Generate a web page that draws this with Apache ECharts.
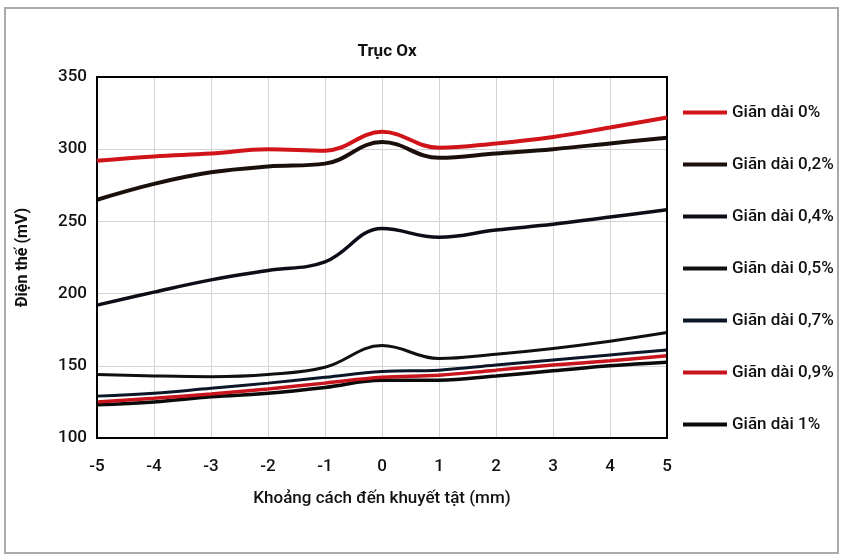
<!DOCTYPE html>
<html><head><meta charset="utf-8">
<script src="https://cdn.jsdelivr.net/npm/echarts@6/dist/echarts.min.js"></script>
<style>html,body{margin:0;padding:0;background:#fff}#c{width:844px;height:558px}</style>
</head><body><div id="c"></div>
<script>
const xs = [-5,-4,-3,-2,-1,0,1,2,3,4,5];
const seriesNames = ['Giãn dài 0%','Giãn dài 0,2%','Giãn dài 0,4%','Giãn dài 0,5%','Giãn dài 0,7%','Giãn dài 0,9%','Giãn dài 1%'];
const s0  = [292,295,297,300,299,312,301,304,308.5,315,322];
const s02 = [265,276,284,288,290,305,294,297,300,304,308];
const s04 = [192,201,209.5,216,222,245,239,244,248,253,258];
const s05 = [144,143,142.5,144,149,164,155,158,162,167,173];
const s07 = [129,131,134.5,138,142,146,147,150.5,154,157.5,161];
const s09 = [125,127.5,130.5,134,138,142,143.5,147,150.5,153.5,157];
const s1  = [123,125,128.5,131,135,140,140,143,146.5,150,152.5];
const allData = [s0,s02,s04,s05,s07,s09,s1];
const colors = ['#d0141a','#1a0f0a','#0d0d1a','#101010','#0b1626','#c8141c','#0a0a0a'];
const widths = [4,4,3.5,3,3,3.5,3.5];

const FONT = '"Liberation Sans Narrow","Roboto",sans-serif';
const chart = echarts.init(document.getElementById('c'));
chart.setOption({
  backgroundColor:'#fff',
  animation:false,
  title:{text:'Trục Ox',left:382,top:38,textAlign:'center',textStyle:{fontFamily:FONT,fontSize:17,fontWeight:'bold',color:'#111'}},
  grid:{left:97,right:177,top:77,bottom:120},
  xAxis:{type:'value',min:-5,max:5,interval:1,
    name:'Khoảng cách đến khuyết tật (mm)',nameLocation:'middle',nameGap:52,
    nameTextStyle:{fontFamily:FONT,fontSize:17,color:'#111',fontWeight:500},
    axisLine:{onZero:false,lineStyle:{color:'#000',width:2}},
    axisTick:{show:false},
    axisLabel:{fontFamily:FONT,fontSize:17,color:'#111',margin:20,fontWeight:500},
    splitLine:{show:true,lineStyle:{color:'#d4d4d4',width:1}}},
  yAxis:{type:'value',min:100,max:350,interval:50,
    name:'Điện thế (mV)',nameLocation:'middle',nameGap:66,nameRotate:90,
    nameTextStyle:{fontFamily:FONT,fontSize:16,fontWeight:'bold',color:'#111'},
    axisLine:{show:true,onZero:false,lineStyle:{color:'#000',width:2}},
    axisTick:{show:false},
    axisLabel:{fontFamily:FONT,fontSize:17,color:'#111',margin:10,fontWeight:500},
    splitLine:{show:true,lineStyle:{color:'#d4d4d4',width:1}}},
  legend:{orient:'vertical',left:683,top:104,padding:0,itemGap:35,itemWidth:44,itemHeight:4,icon:'rect',itemTextGap:1,
    textStyle:{fontFamily:FONT,fontSize:17,color:'#111',fontWeight:500},
    data:seriesNames},
  graphic:[
    {type:'rect',shape:{x:97,y:77,width:570,height:361},style:{fill:'none',stroke:'#000',lineWidth:2},z:10,silent:true},
    {type:'rect',shape:{x:5,y:8,width:833,height:545},style:{fill:'none',stroke:'#aaa',lineWidth:2},z:0,silent:true}
  ],
  series: seriesNames.map((n,i)=>({
    name:n,type:'line',smooth:0.4,showSymbol:false,symbol:'none',
    data:xs.map((x,j)=>[x,allData[i][j]]),
    lineStyle:{color:colors[i],width:widths[i]},
    itemStyle:{color:colors[i]},
    z:10-i
  }))
});
</script></body></html>
